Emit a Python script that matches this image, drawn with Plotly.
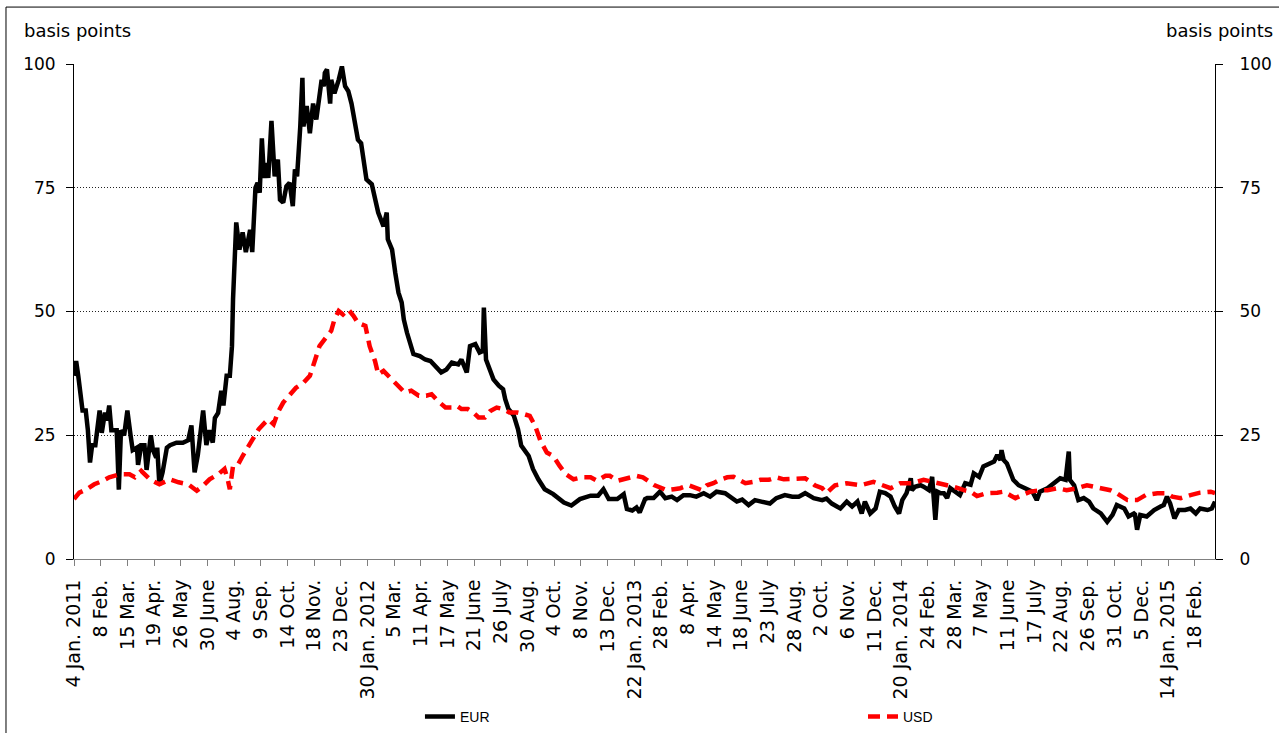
import plotly.graph_objects as go

# ---- tick labels (every 25 TARGET business days) ----
tick_labels = ["4 Jan. 2011", "8 Feb.", "15 Mar.", "19 Apr.", "26 May", "30 June", "4 Aug.",
               "9 Sep.", "14 Oct.", "18 Nov.", "23 Dec.", "30 Jan. 2012", "5 Mar.", "11 Apr.",
               "17 May", "21 June", "26 July", "30 Aug.", "4 Oct.", "8 Nov.", "13 Dec.",
               "22 Jan. 2013", "28 Feb.", "8 Apr.", "14 May", "18 June", "23 July", "28 Aug.",
               "2 Oct.", "6 Nov.", "11 Dec.", "20 Jan. 2014", "24 Feb.", "28 Mar.", "7 May",
               "11 June", "17 July", "22 Aug.", "26 Sep.", "31 Oct.", "5 Dec.", "14 Jan. 2015",
               "18 Feb."]
tick_step = 25
last_day = 1069

# ---- EUR (business-day index, basis points) ----
eur_day = [0, 2, 4, 8, 11, 13, 15, 17, 20, 24, 26, 29, 31, 33, 35, 40, 42, 44, 47, 50, 53, 55,
           59, 60, 63, 66, 68, 72, 74, 77, 78, 80, 83, 87, 90, 96, 102, 107, 110, 113, 116, 121,
           124, 127, 130, 132, 135, 138, 140, 143, 146, 148, 149, 151, 152, 155, 158, 161, 165,
           167, 170, 172, 174, 176, 178, 180, 182, 185, 188, 191, 193, 196, 199, 202, 205, 207,
           209, 212, 214, 215, 218, 221, 224, 227, 230, 232, 234, 235, 237, 240, 241, 244, 248,
           251, 254, 257, 260, 263, 266, 269, 272, 274, 279, 282, 285, 290, 293, 294, 298, 301,
           304, 307, 309, 312, 315, 318, 324, 329, 334, 338, 344, 349, 354, 360, 363, 368, 371,
           376, 380, 383, 384, 386, 390, 393, 398, 402, 404, 407, 412, 416, 419, 426, 430, 435,
           441, 449, 459, 466, 474, 484, 491, 496, 501, 509, 515, 518, 523, 527, 530, 535, 537,
           543, 549, 554, 560, 565, 571, 577, 583, 590, 596, 602, 610, 615, 621, 626, 632, 638,
           644, 652, 658, 666, 673, 679, 685, 693, 701, 705, 710, 715, 718, 724, 729, 734, 738,
           741, 746, 751, 755, 760, 765, 769, 773, 776, 780, 784, 785, 788, 793, 796, 801, 804,
           806, 807, 809, 812, 815, 818, 821, 826, 830, 835, 840, 843, 848, 852, 857, 862, 865,
           868, 869, 871, 874, 877, 880, 885, 891, 898, 902, 905, 912, 918, 924, 929, 932, 933,
           937, 941, 946, 951, 955, 962, 968, 973, 977, 984, 988, 993, 994, 996, 999, 1005, 1012,
           1018, 1021, 1024, 1027, 1031, 1035, 1041, 1046, 1051, 1055, 1062, 1066, 1069]
eur_val = [37, 40, 37, 30, 30, 26, 19.5, 23, 23, 30, 25.5, 29.6, 28, 31, 26, 26, 14, 26, 25, 30,
           25, 22, 22.5, 19, 23, 23, 18, 25, 22, 20.5, 22.5, 15, 17.5, 22.5, 23, 23.5, 23.5, 24,
           27, 17.5, 21, 30, 23, 26, 23.5, 28.5, 29.5, 34, 31, 37, 37, 43, 52.5, 62, 68, 62.5,
           66, 62, 66.5, 62, 75, 76, 74, 85, 77, 80, 77, 88.5, 77.3, 80.7, 72.6, 72, 75.3, 76,
           71.3, 78.7, 77.3, 87.4, 97.2, 87.4, 91.5, 86, 92, 88.8, 92.8, 96.8, 95.5, 98.2, 98.9,
           92, 96.8, 94.1, 96.8, 99.5, 95.5, 94.5, 92, 88.8, 84.7, 84, 79.4, 76.7, 75.7, 72.6,
           70, 67.2, 70, 64.6, 62.5, 57.8, 53.8, 51.8, 48.4, 45.7, 43.7, 41.4, 41, 40.3, 40,
           39, 37.7, 38.3, 39.7, 39.3, 40.3, 37.7, 43, 43.4, 41.7, 42, 50.8, 40.3, 38.3, 36.3,
           35, 34.3, 32.3, 30.3, 29, 26.2, 22.9, 20.8, 18.2, 16.1, 14.1, 13.1, 11.4, 10.8, 12.1,
           12.8, 12.8, 14.1, 12.1, 12.1, 13.1, 10.1, 9.8, 10.4, 9.4, 12.1, 12.3, 12.3, 13.6,
           12.3, 12.6, 11.9, 12.9, 12.9, 12.6, 13.3, 12.6, 13.6, 13.3, 12.6, 11.6, 12, 10.9,
           11.9, 11.6, 11.2, 12.3, 12.9, 12.6, 12.6, 13.3, 12.3, 11.9, 12.2, 11.2, 10.6, 10.2,
           11.6, 10.6, 11.6, 9.2, 11.6, 9.2, 10.2, 13.6, 13.3, 12.6, 10.6, 9.2, 11.9, 13.3,
           16.3, 13.9, 14.6, 14.9, 14.6, 13.9, 16.6, 11.9, 7.9, 13.6, 13.3, 13.3, 12.3, 14.3,
           13.6, 12.9, 15.3, 15, 17.3, 16.6, 18.7, 19.3, 19.7, 21, 20, 22, 20, 19.3, 17.3, 16,
           14.9, 14.3, 13.6, 11.9, 13.6, 14.3, 15.3, 16.3, 16, 21.7, 16, 14.9, 11.9, 12.3,
           11.6, 10.2, 9.2, 7.5, 8.9, 10.9, 10.2, 8.6, 9.2, 9, 5.9, 8.9, 8.6, 9.9, 10.6, 10.9,
           12.6, 11.2, 8.2, 9.9, 9.9, 10.2, 9.2, 10.2, 9.9, 10.2, 11.6]

# ---- USD (business-day index, basis points) ----
usd_day = [0, 5, 12, 19, 27, 33, 43, 52, 57, 63, 71, 80, 90, 98, 107, 115, 121, 127, 135, 141,
           144, 146, 149, 154, 158, 165, 173, 179, 182, 187, 191, 196, 202, 208, 215, 221, 226,
           230, 237, 241, 244, 248, 252, 257, 262, 266, 273, 277, 282, 285, 290, 296, 302, 310,
           316, 323, 330, 335, 341, 348, 354, 359, 363, 369, 374, 379, 385, 390, 396, 402, 408,
           415, 421, 427, 432, 437, 443, 449, 455, 461, 468, 476, 484, 490, 498, 502, 509, 515,
           521, 527, 533, 540, 544, 551, 555, 562, 568, 576, 580, 588, 593, 599, 605, 612, 618,
           624, 629, 637, 643, 651, 658, 665, 673, 677, 685, 690, 694, 701, 705, 710, 713, 724,
           737, 749, 760, 765, 774, 785, 796, 804, 815, 824, 834, 840, 846, 855, 865, 871, 877,
           882, 888, 896, 905, 912, 921, 930, 940, 949, 962, 971, 977, 987, 996, 1004, 1015,
           1024, 1029, 1037, 1046, 1055, 1065, 1069]
usd_val = [12.1, 13.4, 14.1, 15.1, 15.8, 16.5, 17.1, 17.1, 16.5, 17.8, 16.1, 15.1, 16.1, 15.5,
           15.1, 13.8, 14.8, 16.1, 17.1, 18.2, 16.1, 14.1, 18.8, 19.2, 20.8, 23.5, 26.2, 27.6,
           28.2, 27.2, 29.6, 31.6, 33, 34.6, 35.6, 37, 40.3, 43, 45, 46.1, 48.4, 50.1, 49.4,
           50.4, 49.1, 47.7, 47.1, 43, 40, 37.3, 38, 36.7, 35.3, 33.6, 34, 33, 33, 33.3, 31.9,
           30.6, 30.6, 30.9, 30.3, 30.3, 29.6, 28.6, 28.6, 29.9, 30.6, 30.3, 29.6, 29.6, 29.3,
           28.9, 26.9, 23.9, 21.5, 20.8, 18.8, 17.1, 16.1, 16.5, 16.5, 15.8, 16.8, 16.8, 15.8,
           16.1, 16.5, 16.8, 16.5, 15.5, 14.9, 14.3, 13.9, 14.1, 14.3, 14.9, 14.6, 13.9, 14.9,
           15.3, 16, 16.5, 16.6, 16, 15.3, 15.6, 16, 16, 16.5, 16.1, 16.1, 16.3, 16.3, 15.6,
           14.9, 14.3, 13.3, 14.3, 14.9, 15.3, 14.9, 15.6, 14.6, 14.3, 15.3, 15.3, 16, 15.6,
           15.2, 14.6, 13.9, 13.6, 12.7, 13.3, 13.4, 13.6, 12.9, 12.3, 12.9, 13.6, 13.9, 13.9,
           14.3, 13.9, 14.3, 14.9, 14.3, 13.9, 13.3, 11.9, 11.9, 12.9, 13.3, 13.3, 12.6, 12.3,
           12.9, 13.4, 13.6, 13.3]

FONT = "DejaVu Sans"
LEGEND_FONT = dict(family="Liberation Sans", size=14, color="black")

fig = go.Figure()
fig.add_trace(go.Scatter(x=eur_day, y=eur_val, name="EUR", mode="lines",
                         line=dict(color="black", width=4.5), yaxis="y", legend="legend"))
fig.add_trace(go.Scatter(x=usd_day, y=usd_val, name="USD", mode="lines",
                         line=dict(color="#ff0000", width=4.5, dash="12px,7px"), yaxis="y2",
                         legend="legend2"))

yticks = [0, 25, 50, 75, 100]
fig.update_layout(
    width=1279, height=733,
    margin=dict(l=74, r=64, t=64, b=174, autoexpand=False),
    paper_bgcolor="white", plot_bgcolor="white",
    font=dict(family=FONT, color="black"),
    xaxis=dict(range=[0, last_day], tickvals=list(range(0, len(tick_labels) * tick_step, tick_step)),
               ticktext=tick_labels, tickangle=-90, ticks="outside", ticklen=6, tickcolor="#808080",
               showline=True, linecolor="#808080", linewidth=1, showgrid=False, zeroline=False,
               ticklabelstandoff=6,
               tickfont=dict(size=19, family=FONT, color="black")),
    yaxis=dict(range=[0, 100], tickvals=yticks, ticks="outside", ticklen=7, tickcolor="black",
               showline=True, linecolor="black", linewidth=1, showgrid=True, gridcolor="#222222",
               griddash="1px,2px", gridwidth=1, zeroline=False, ticklabelstandoff=7,
               tickfont=dict(size=17, family=FONT, color="black")),
    yaxis2=dict(range=[0, 100], tickvals=yticks, ticks="outside", ticklen=7, tickcolor="black",
                showline=True, linecolor="black", linewidth=1, showgrid=False, zeroline=False,
                overlaying="y", side="right", ticklabelstandoff=13,
                tickfont=dict(size=17, family=FONT, color="black")),
    legend=dict(orientation="h", x=0.3032, xanchor="left", y=-0.319, yanchor="middle",
                font=LEGEND_FONT, bgcolor="rgba(0,0,0,0)"),
    legend2=dict(orientation="h", x=0.6915, xanchor="left", y=-0.319, yanchor="middle",
                 font=LEGEND_FONT, bgcolor="rgba(0,0,0,0)"),
    showlegend=True,
    annotations=[
        dict(text="basis points", xref="paper", yref="paper", x=-0.0456, y=1.0667,
             xanchor="left", yanchor="middle", showarrow=False,
             font=dict(family=FONT, size=18, color="black")),
        dict(text="basis points", xref="paper", yref="paper", x=1.0526, y=1.0667,
             xanchor="right", yanchor="middle", showarrow=False,
             font=dict(family=FONT, size=18, color="black")),
    ],
    shapes=[dict(type="rect", xref="paper", yref="paper", x0=-0.0596, x1=1.08,
                 y0=-0.4, y1=1.115, line=dict(color="black", width=1), layer="below")],
)

fig.write_html("out.html", config={"displayModeBar": False},
               post_script="document.body.style.margin='0';")
